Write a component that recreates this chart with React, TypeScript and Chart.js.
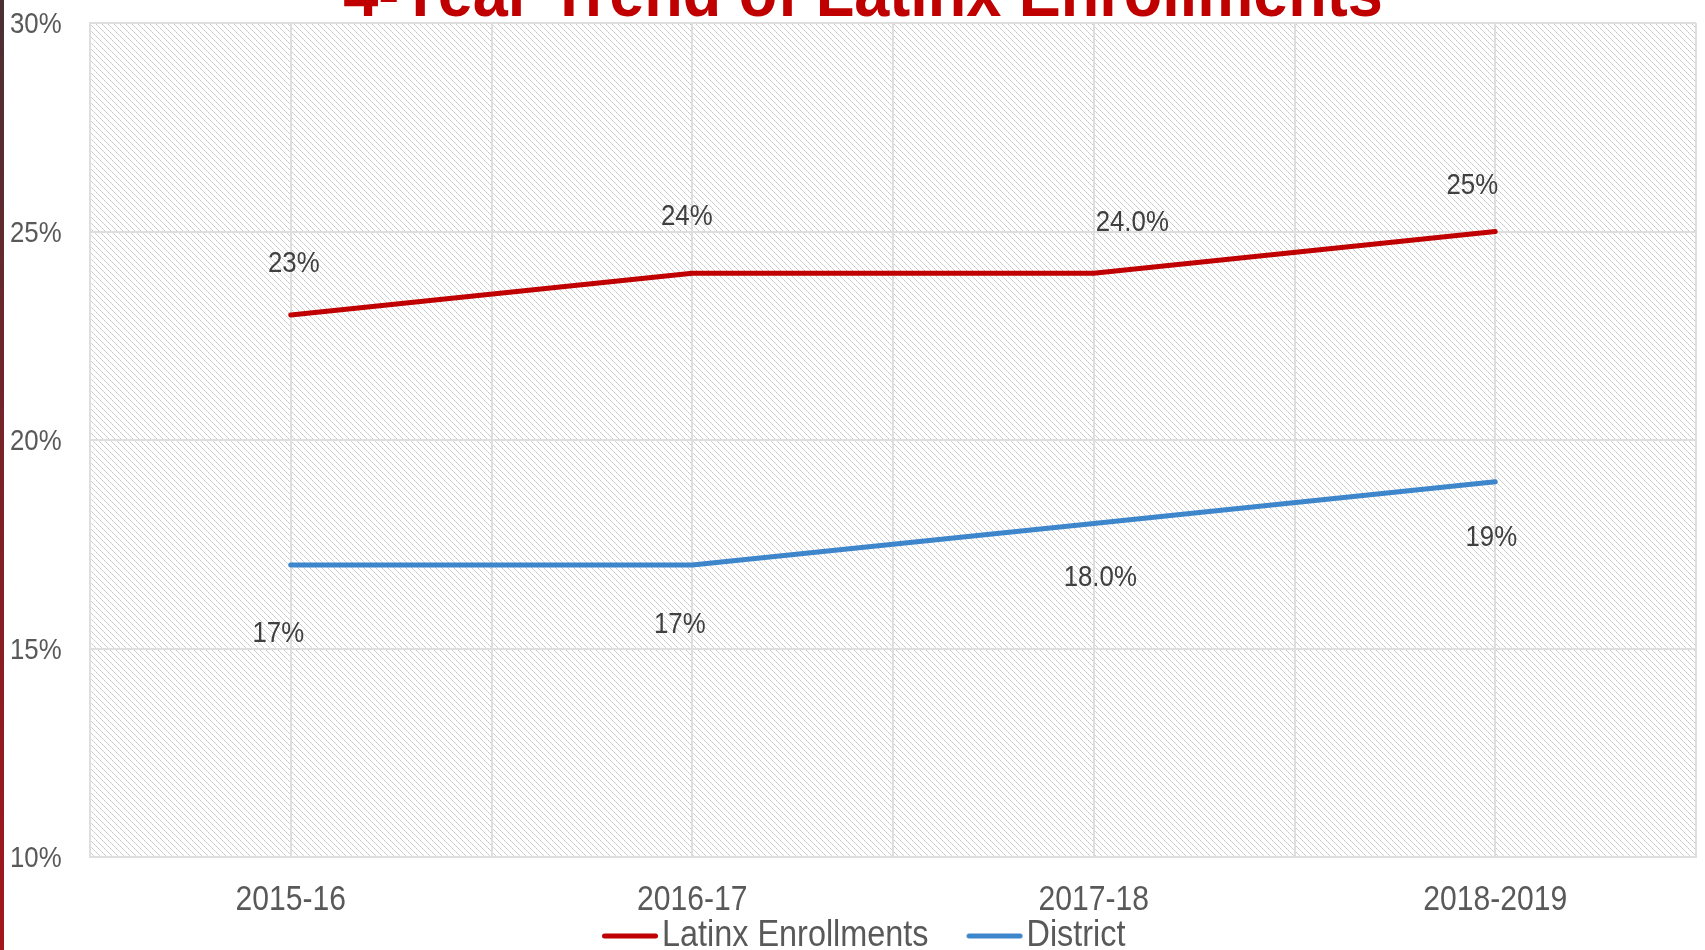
import React, { useEffect, useRef } from "react";
import { Chart, registerables } from "chart.js";

Chart.register(...registerables);

// ---- data ----
const categories = ["2015-16", "2016-17", "2017-18", "2018-2019"];
const seriesNames = ["Latinx Enrollments", "District"];
const latinxValues = [23, 24, 24, 25];
const districtValues = [17, 17, 18, 19];
const latinxLabels = ["23%", "24%", "24.0%", "25%"];
const districtLabels = ["17%", "17%", "18.0%", "19%"];
const yTicks = [10, 15, 20, 25, 30];
const titleText = "4-Year Trend of Latinx Enrollments";

// ---- styling ----
const FONT = '"Liberation Sans", Arial, sans-serif';
const RED = "#c00000";
const BLUE = "#3d86cb";
const GRID = "#dedede";
const latinxLabelOffsets = [
  [3, -51],
  [-5.5, -56],
  [38.5, -50],
  [-23, -46],
];
const districtLabelOffsets = [
  [-12.5, 69],
  [-12.5, 60],
  [6.5, 54],
  [-4, 56],
];

// horizontal condensing of text (the original uses a narrow typeface)
const squeezeFor = (t: string) => (/[A-Za-z]/.test(t) ? 0.9 : 0.86);

function condenseContext(ctx: CanvasRenderingContext2D) {
  const origFill = ctx.fillText.bind(ctx);
  const origMeasure = ctx.measureText.bind(ctx);
  (ctx as any).fillText = (text: string, x: number, y: number) => {
    const f = squeezeFor(String(text));
    ctx.save();
    ctx.translate(x, y);
    ctx.scale(f, 1);
    origFill(text, 0, 0);
    ctx.restore();
  };
  (ctx as any).measureText = (text: string) => {
    const m = origMeasure(text);
    const f = squeezeFor(String(text));
    return {
      width: m.width * f,
      actualBoundingBoxLeft: m.actualBoundingBoxLeft * f,
      actualBoundingBoxRight: m.actualBoundingBoxRight * f,
      actualBoundingBoxAscent: m.actualBoundingBoxAscent,
      actualBoundingBoxDescent: m.actualBoundingBoxDescent,
      fontBoundingBoxAscent: m.fontBoundingBoxAscent,
      fontBoundingBoxDescent: m.fontBoundingBoxDescent,
    };
  };
}

function makeHatch(): CanvasPattern | string {
  const c = document.createElement("canvas");
  c.width = 6;
  c.height = 6;
  const g = c.getContext("2d");
  if (!g) return "#eeeeee";
  g.fillStyle = "#ffffff";
  g.fillRect(0, 0, 6, 6);
  for (let i = 0; i < 6; i++) {
    g.fillStyle = i % 2 === 0 ? "#c6c6c6" : "#d6d6d6";
    g.fillRect(i, i, 1, 1);
  }
  const p = g.createPattern(c, "repeat");
  return p || "#eeeeee";
}

function makeLegendLine(color: string): HTMLCanvasElement {
  const c = document.createElement("canvas");
  c.width = 80;
  c.height = 10;
  const g = c.getContext("2d");
  if (g) {
    g.strokeStyle = color;
    g.lineWidth = 5;
    g.lineCap = "round";
    g.beginPath();
    g.moveTo(21.5, 5);
    g.lineTo(72.5, 5);
    g.stroke();
  }
  return c;
}

export default function App() {
  const ref = useRef<HTMLCanvasElement | null>(null);

  useEffect(() => {
    document.body.style.margin = "0";
    if (!ref.current) return;
    const ctx2d = ref.current.getContext("2d");
    if (ctx2d) condenseContext(ctx2d);
    const hatch = makeHatch();
    const legendImgs = [makeLegendLine(RED), makeLegendLine(BLUE)];
    const labelSets = [latinxLabels, districtLabels];
    const offsetSets = [latinxLabelOffsets, districtLabelOffsets];

    const bgPlugin = {
      id: "bgPlugin",
      beforeDraw(chart: any) {
        const { ctx, chartArea } = chart;
        ctx.save();
        ctx.fillStyle = "#ffffff";
        ctx.fillRect(0, 0, chart.width, chart.height);
        ctx.fillStyle = hatch;
        ctx.fillRect(chartArea.left, chartArea.top, chartArea.right - chartArea.left, chartArea.bottom - chartArea.top);
        ctx.restore();
      },
    };

    const legendPos = {
      id: "legendPos",
      afterLayout(chart: any) {
        const lg = chart.legend;
        if (lg) {
          lg.left = 564;
          lg.right = 1705;
          lg.top = 880;
        }
      },
    };

    const dataLabels = {
      id: "dataLabels",
      afterDatasetsDraw(chart: any) {
        const { ctx } = chart;
        ctx.save();
        ctx.font = `30px ${FONT}`;
        ctx.fillStyle = "#404040";
        ctx.textAlign = "center";
        ctx.textBaseline = "middle";
        chart.data.datasets.forEach((_ds: any, di: number) => {
          const meta = chart.getDatasetMeta(di);
          meta.data.forEach((el: any, i: number) => {
            const [dx, dy] = offsetSets[di][i];
            ctx.fillText(labelSets[di][i], el.x + dx, el.y + dy);
          });
        });
        ctx.restore();
      },
    };

    const titlePlugin = {
      id: "titlePlugin",
      afterDraw(chart: any) {
        const { ctx } = chart;
        ctx.save();
        ctx.font = `bold 70px ${FONT}`;
        ctx.fillStyle = RED;
        ctx.textAlign = "center";
        ctx.textBaseline = "alphabetic";
        ctx.fillText(titleText, 863, 16);
        ctx.restore();
      },
    };

    const chart = new Chart(ref.current, {
      type: "line",
      data: {
        labels: categories,
        datasets: [
          {
            label: seriesNames[0],
            data: latinxValues,
            borderColor: RED,
            backgroundColor: RED,
            borderWidth: 5,
            borderCapStyle: "round",
            borderJoinStyle: "round",
            pointRadius: 0,
            tension: 0,
            xAxisID: "x",
          },
          {
            label: seriesNames[1],
            data: districtValues,
            borderColor: BLUE,
            backgroundColor: BLUE,
            borderWidth: 5,
            borderCapStyle: "round",
            borderJoinStyle: "round",
            pointRadius: 0,
            tension: 0,
            xAxisID: "x",
          },
        ],
      },
      options: {
        responsive: false,
        animation: false,
        layout: { padding: { left: 10, right: 9, top: 23, bottom: -56 } },
        scales: {
          x: {
            type: "category",
            position: "bottom",
            offset: true,
            grid: { display: true, offset: false, color: GRID, lineWidth: 2, drawTicks: false },
            border: { display: true, color: GRID, width: 2 },
            ticks: { color: "#595959", font: { family: FONT, size: 35 }, padding: 22, maxRotation: 0, autoSkip: false },
            afterFit(scale: any) {
              scale.height = 65;
            },
          },
          x2: {
            type: "category",
            position: "bottom",
            labels: categories,
            offset: true,
            grid: { display: true, offset: true, color: GRID, lineWidth: 2, drawTicks: false },
            border: { display: false },
            ticks: { display: false },
            afterFit(scale: any) {
              scale.height = 0;
            },
          },
          y: {
            min: 10,
            max: 30,
            grid: { color: GRID, lineWidth: 2, drawTicks: false },
            border: { display: true, color: GRID, width: 2 },
            afterBuildTicks(scale: any) {
              scale.ticks = yTicks.map((v) => ({ value: v }));
            },
            ticks: {
              color: "#595959",
              font: { family: FONT, size: 30 },
              crossAlign: "far",
              padding: 0,
              labelOffset: 2,
              callback: (v: any) => `${v}%`,
            },
            afterFit(scale: any) {
              scale.width = 80;
            },
          },
        },
        plugins: {
          title: { display: false },
          tooltip: { enabled: false },
          legend: {
            display: true,
            position: "bottom",
            align: "start",
            labels: {
              usePointStyle: true,
              pointStyleWidth: 42,
              padding: 38,
              color: "#595959",
              font: { family: FONT, size: 36 },
              generateLabels: (ch: any) =>
                Chart.defaults.plugins.legend.labels.generateLabels(ch).map((it: any, i: number) => ({
                  ...it,
                  pointStyle: legendImgs[i],
                  fontColor: "#595959",
                })),
            },
          },
        },
      },
      plugins: [bgPlugin, legendPos, dataLabels, titlePlugin],
    } as any);

    return () => chart.destroy();
  }, []);

  return (
    <div style={{ position: "relative", width: 1705, height: 950, background: "#fff" }}>
      <canvas ref={ref} width={1705} height={950} style={{ display: "block" }} />
      <div
        style={{
          position: "absolute",
          left: 0,
          top: 0,
          width: 4,
          height: 950,
          background: "linear-gradient(to bottom, #4a3034 0%, #7a2228 50%, #a3161b 100%)",
        }}
      />
    </div>
  );
}
